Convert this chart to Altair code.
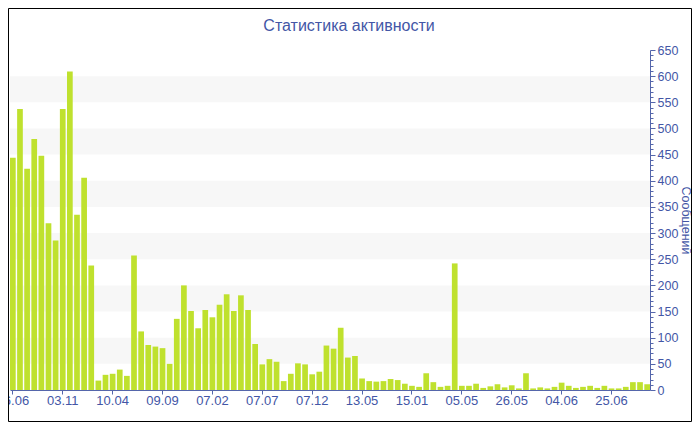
import altair as alt
import pandas as pd

# ---- data ----
values = [444, 537, 423, 480, 448, 319, 286, 537, 609, 335, 406, 238,
          18, 29, 31, 39, 27, 257, 112, 86, 83, 80, 50,
          136, 200, 151, 118, 153, 139, 163, 183, 151, 181, 153,
          88, 49, 59, 54, 17, 31, 51, 49, 30, 35, 85,
          79, 119, 62, 65,
          22, 17, 16, 17, 21, 19, 12, 8, 6, 32, 15, 6, 8,
          242,
          8, 8, 12,
          4, 7, 11, 5, 9, 3, 32, 3, 5, 3, 6, 14, 8, 4, 6, 8, 4, 8, 3, 3, 6, 15, 15, 11]
tick_labels = ["06.06", "03.11", "10.04", "09.09", "07.02", "07.07", "07.12",
               "13.05", "15.01", "05.05", "26.05", "04.06", "25.06"]
tick_every = 7
band_low = [50, 150, 250, 350, 450, 550]
band_high = [100, 200, 300, 400, 500, 600]

df = pd.DataFrame({"i": list(range(len(values))), "n": values})
bands = pd.DataFrame({"lo": band_low, "hi": band_high})

W, H = 640, 340
PAD = {"left": 2, "top": 42, "right": 42, "bottom": 32}
text_color = "#4356a6"
line_color = "#5566ab"
bar_color = "#bfe12e"
font = "Liberation Sans"

label_arr = "[" + ",".join("'" + t + "'" for t in tick_labels) + "]"

y_scale = alt.Scale(domain=[0, 650], nice=False)
y_axis = alt.Axis(
    orient="right",
    values=list(range(0, 651, 10)),
    labelExpr="datum.value % 50 === 0 ? datum.label : ''",
    tickSize=alt.condition("datum.value % 50 === 0", alt.value(5), alt.value(3)),
    labelOverlap=False,
    labelFlush=False,
    grid=False,
    domainColor=line_color,
    tickColor=line_color,
    labelColor=text_color,
    labelFont=font,
    labelFontSize=12.5,
    labelPadding=2,
    title="Сообщений",
    titleColor=text_color,
    titleFont=font,
    titleFontSize=12.5,
    titleFontWeight="normal",
    titlePadding=1,
)
x_axis = alt.Axis(
    values=list(range(0, len(values), tick_every)),
    labelExpr=label_arr + "[datum.value / " + str(tick_every) + "]",
    labelAngle=0,
    title=None,
    grid=False,
    domainColor=line_color,
    tickColor=line_color,
    tickSize=4,
    labelColor=text_color,
    labelFont=font,
    labelFontSize=13,
    labelPadding=0,
    labelOverlap=False,
    labelFlush=False,
)

bands_layer = alt.Chart(bands).mark_rect(color="#f7f7f7").encode(
    y=alt.Y("lo:Q", scale=y_scale, axis=y_axis),
    y2="hi:Q",
    x=alt.value(0),
    x2=alt.value(W),
)

bars = alt.Chart(df).mark_bar(color=bar_color).encode(
    x=alt.X("i:O", scale=alt.Scale(paddingInner=0.2, paddingOuter=0), axis=x_axis),
    y=alt.Y("n:Q", scale=y_scale, axis=y_axis),
)

frame = alt.Chart(alt.Data(values=[{"k": 0}])).mark_rect(
    filled=False, stroke="black", strokeWidth=1
).encode(
    x=alt.value(-PAD["left"] + 0.5),
    x2=alt.value(W + PAD["right"] - 0.5),
    y=alt.value(-PAD["top"] + 0.5),
    y2=alt.value(H + PAD["bottom"] - 0.5),
)

# the title is placed above the frame's top edge (-42), so a negative
# offset brings it back down to about 16 px above the plot
chart = alt.layer(bands_layer, bars, frame).properties(
    width=W,
    height=H,
    title=alt.TitleParams(
        "Статистика активности",
        font=font, fontSize=16, fontWeight="normal", color=text_color,
        anchor="middle", frame="group", offset=-26, dx=19,
    ),
    autosize=alt.AutoSizeParams(type="none"),
    padding=PAD,
).configure(background="white", view=alt.ViewConfig(strokeWidth=0))

chart.save("out.html", embed_options={"renderer": "svg", "actions": False})
